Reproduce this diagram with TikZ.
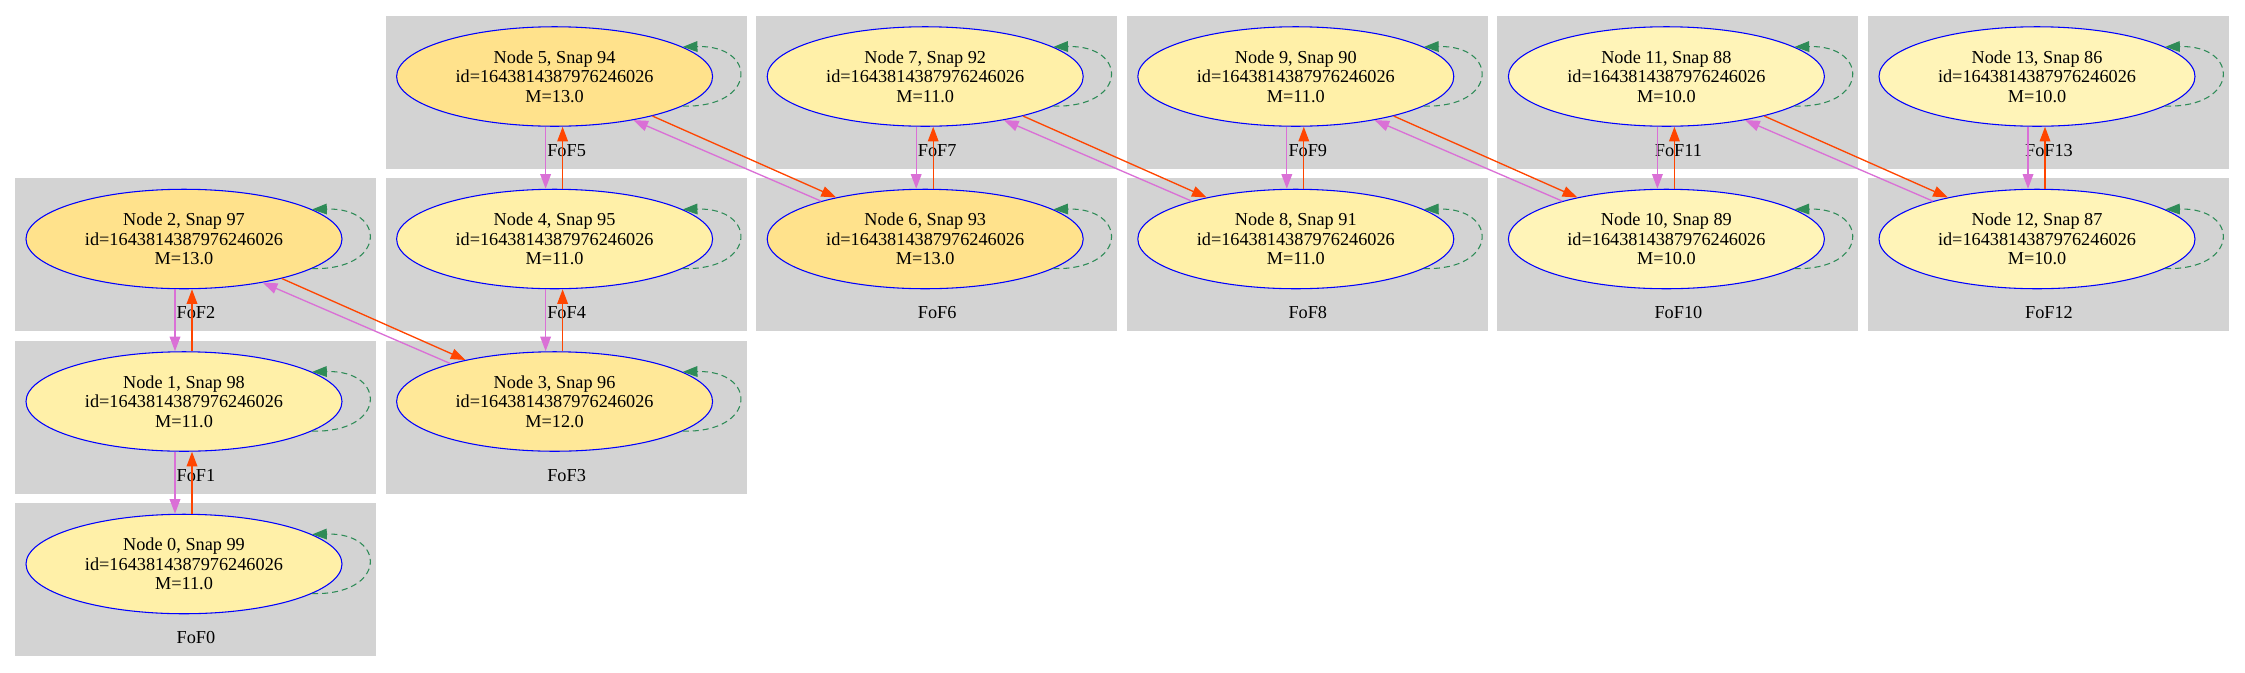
\documentclass[tikz,border=0pt]{standalone}
\usepackage{fontspec}
\setmainfont{Liberation Serif}
\usepackage{xcolor}
\usepackage{tikz}
\usetikzlibrary{positioning,backgrounds,arrows.meta,shapes.geometric}

\definecolor{fofgray}{HTML}{D3D3D3}
\definecolor{massten}{HTML}{FFF4B8}
\definecolor{masseleven}{HTML}{FFF0A8}
\definecolor{masstwelve}{HTML}{FFE898}
\definecolor{massthirteen}{HTML}{FFE28C}
\definecolor{nextred}{HTML}{FF4500}
\definecolor{prevorchid}{HTML}{DA70D6}
\definecolor{loopgreen}{HTML}{2E8B57}

\begin{document}
\begin{tikzpicture}[x=0.75pt, y=0.75pt, >={Triangle[length=11pt,width=8pt]},
    node distance=121.875pt and 277.95pt, on grid,
    halo/.style={ellipse, draw=blue, line width=0.8pt, minimum width=237pt,
      minimum height=74.6pt, inner sep=0pt, align=center,
      font=\fontsize{13.7}{14.6}\selectfont},
    fofname/.style={font=\fontsize{13.7}{14.6}\selectfont},
    nextedge/.style={->, draw=nextred, line width=1pt},
    prevedge/.style={->, draw=prevorchid, line width=1pt},
    selfloop/.style={->, draw=loopgreen, line width=0.8pt, dash pattern=on 4.5pt off 3pt}]
  \useasboundingbox (0,0) rectangle (2245,-672);

  \node[halo, fill=masseleven] (n0) at (184,-564) {Node 0, Snap 99\\id=1643814387976246026\\M=11.0};
  \node[halo, fill=masseleven, above=of n0] (n1) {Node 1, Snap 98\\id=1643814387976246026\\M=11.0};
  \node[halo, fill=massthirteen, above=of n1] (n2) {Node 2, Snap 97\\id=1643814387976246026\\M=13.0};
  \node[halo, fill=masstwelve, right=of n1] (n3) {Node 3, Snap 96\\id=1643814387976246026\\M=12.0};
  \node[halo, fill=masseleven, above=of n3] (n4) {Node 4, Snap 95\\id=1643814387976246026\\M=11.0};
  \node[halo, fill=massthirteen, above=of n4] (n5) {Node 5, Snap 94\\id=1643814387976246026\\M=13.0};
  \node[halo, fill=massthirteen, right=of n4] (n6) {Node 6, Snap 93\\id=1643814387976246026\\M=13.0};
  \node[halo, fill=masseleven, above=of n6] (n7) {Node 7, Snap 92\\id=1643814387976246026\\M=11.0};
  \node[halo, fill=masseleven, right=of n6] (n8) {Node 8, Snap 91\\id=1643814387976246026\\M=11.0};
  \node[halo, fill=masseleven, above=of n8] (n9) {Node 9, Snap 90\\id=1643814387976246026\\M=11.0};
  \node[halo, fill=massten, right=of n8] (n10) {Node 10, Snap 89\\id=1643814387976246026\\M=10.0};
  \node[halo, fill=massten, above=of n10] (n11) {Node 11, Snap 88\\id=1643814387976246026\\M=10.0};
  \node[halo, fill=massten, right=of n10] (n12) {Node 12, Snap 87\\id=1643814387976246026\\M=10.0};
  \node[halo, fill=massten, above=of n12] (n13) {Node 13, Snap 86\\id=1643814387976246026\\M=10.0};

  % FoF groups behind the halos
  \begin{scope}[on background layer]
    \foreach \i in {0,...,13} {
      \fill[fofgray] ([shift={(-169,61)}]n\i.center) rectangle ([shift={(192,-92)}]n\i.center);
      \node[fofname] (fof\i) at ([shift={(12,-74)}]n\i.center) {FoF\i};
    }
  \end{scope}

  \foreach \a/\b in {0/1,1/2,3/4,4/5,6/7,8/9,10/11,12/13} {
    \draw[nextedge] ([xshift=6pt]n\a.north) -- ([xshift=6pt]n\b.south);
    \draw[prevedge] ([xshift=-6.75pt]n\b.south) -- ([xshift=-6.75pt]n\a.north);
  }
  \foreach \a/\b in {2/3,5/6,7/8,9/10,11/12} {
    \draw[nextedge] (n\a.-22) -- (n\b.155);
    \draw[prevedge] (n\b.160) -- (n\a.-29);
  }
  \foreach \i in {0,...,13}
    \draw[selfloop] (n\i.-13) .. controls +(75,-2) and +(75,2) .. (n\i.13);
\end{tikzpicture}
\end{document}
